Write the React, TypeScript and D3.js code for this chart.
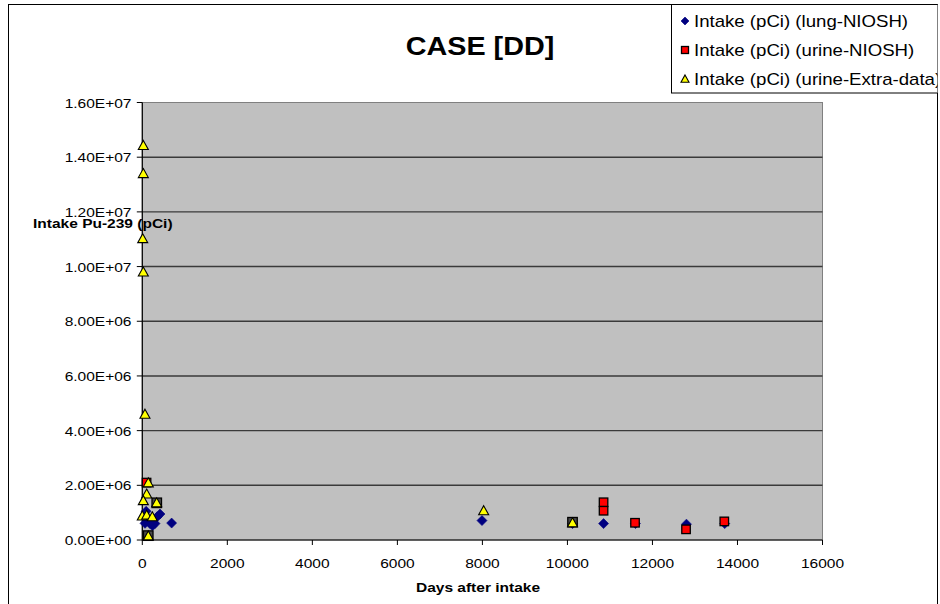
import React from "react";
import * as d3 from "d3";

// ---- data ----
const xTicks = [0, 2000, 4000, 6000, 8000, 10000, 12000, 14000, 16000];
const yTicks = [0, 2e6, 4e6, 6e6, 8e6, 1e7, 1.2e7, 1.4e7, 1.6e7];

const seriesNames = [
  "Intake (pCi) (lung-NIOSH)",
  "Intake (pCi) (urine-NIOSH)",
  "Intake (pCi) (urine-Extra-data)",
];

// [days after intake, intake pCi]
const lungNiosh: [number, number][] = [
  [63, 6.1e5], [90, 1.05e6], [140, 7.5e5], [181, 6.0e5], [240, 5.2e5],
  [299, 6.0e5], [350, 8.5e5], [416, 9.5e5], [690, 6.2e5],
  [7990, 7.1e5], [10120, 6.0e5], [10850, 6.0e5], [11600, 6.0e5],
  [12800, 5.8e5], [13700, 6.0e5],
];

const urineNiosh: [number, number][] = [
  [100, 2.1e6], [10850, 1.38e6], [10850, 1.07e6], [11590, 6.3e5],
  [12790, 3.9e5], [13690, 6.8e5],
];

// squares that appear dark behind triangles
const urineNioshShaded: [number, number][] = [
  [340, 1.36e6], [140, 1.6e5], [10120, 6.5e5],
];

const urineExtra: [number, number][] = [
  [24, 1.443e7], [24, 1.34e7], [10, 1.102e7], [24, 9.8e6], [63, 4.6e6],
  [141, 2.09e6], [103, 1.68e6], [24, 1.44e6], [338, 1.36e6], [0, 8.8e5],
  [103, 9.1e5], [235, 8.5e5], [141, 1.5e5], [8030, 1.07e6], [10120, 6.3e5],
];

// ---- layout ----
const W = 940, H = 604;
const PL = 142.3, PR = 822.5, PT = 102.5, PB = 540;
const SX = 1.15;
const FONT = "'Liberation Sans', Arial, sans-serif";

const x = d3.scaleLinear().domain([0, 16000]).range([PL, PR]);
const y = d3.scaleLinear().domain([0, 1.6e7]).range([PB, PT]);

function fmtE(v: number) {
  if (v === 0) return "0.00E+00";
  const e = Math.floor(Math.log10(v) + 1e-9);
  const m = v / Math.pow(10, e);
  return `${m.toFixed(2)}E+${String(e).padStart(2, "0")}`;
}

function T({ x, y, size, bold, anchor, children }: any) {
  return (
    <text
      transform={`translate(${x},${y}) scale(${SX},1)`}
      fontSize={size}
      fontWeight={bold ? "bold" : "normal"}
      textAnchor={anchor || "start"}
      fontFamily={FONT}
      fill="#000"
    >
      {children}
    </text>
  );
}

const diamondPath = (cx: number, cy: number, r: number) =>
  `M${cx},${cy - r}L${cx + r},${cy}L${cx},${cy + r}L${cx - r},${cy}Z`;
const trianglePath = (cx: number, cy: number, r: number) =>
  `M${cx},${cy - r}L${cx + r},${cy + r * 0.8}L${cx - r},${cy + r * 0.8}Z`;

function Diamond({ cx, cy, r = 5 }: any) {
  return <path d={diamondPath(cx, cy, r)} fill="#000080" stroke="#000080" strokeWidth={0.6} />;
}
function Square({ cx, cy, s = 8.5, fill = "#FF0000" }: any) {
  return <rect x={cx - s / 2} y={cy - s / 2} width={s} height={s} fill={fill} stroke="#000" strokeWidth={1.3} />;
}
function Triangle({ cx, cy, r = 5 }: any) {
  return <path d={trianglePath(cx, cy, r)} fill="#FFFF00" stroke="#000" strokeWidth={1.1} />;
}

export default function App() {
  return (
    <svg
      width={W}
      height={H}
      style={{ position: "absolute", left: 0, top: 0, background: "#fff" }}
    >
      <defs>
        <clipPath id="chartClip">
          <rect x={0} y={0} width={937.5} height={H} />
        </clipPath>
      </defs>
      {/* chart border */}
      <rect x={8.5} y={4.5} width={929} height={640} fill="#fff" stroke="#000" strokeWidth={1} />

      {/* plot area */}
      <rect x={PL} y={PT} width={PR - PL} height={PB - PT} fill="#C0C0C0" stroke="#808080" strokeWidth={1} />
      {yTicks.filter((t) => t > 0 && t < 1.6e7).map((t) => (
        <line key={t} x1={PL} x2={PR} y1={y(t)} y2={y(t)} stroke="#3a3a3a" strokeWidth={1.4} />
      ))}

      {/* axes */}
      <line x1={PL} x2={PL} y1={PT} y2={PB + 0.5} stroke="#000" strokeWidth={1.2} />
      <line x1={PL} x2={PR} y1={PB} y2={PB} stroke="#000" strokeWidth={1.2} />
      {yTicks.map((t) => (
        <g key={t}>
          <line x1={PL - 5.5} x2={PL} y1={y(t)} y2={y(t)} stroke="#000" strokeWidth={1} />
          <T x={131.5} y={y(t) + 5} size={13.5} anchor="end">{fmtE(t)}</T>
        </g>
      ))}
      {xTicks.map((t) => (
        <g key={t}>
          <line x1={x(t)} x2={x(t)} y1={PB} y2={PB + 5} stroke="#000" strokeWidth={1} />
          <T x={x(t)} y={568} size={13.5} anchor="middle">{String(t)}</T>
        </g>
      ))}

      {/* series, drawn in Excel order */}
      {lungNiosh.map(([d, v], i) => (
        <Diamond key={"l" + i} cx={x(d)} cy={y(v)} />
      ))}
      {urineNioshShaded.map(([d, v], i) => (
        <Square key={"s" + i} cx={x(d)} cy={y(v)} s={9.5} fill="#4a4a4a" />
      ))}
      {urineNiosh.map(([d, v], i) => (
        <Square key={"u" + i} cx={x(d)} cy={y(v)} />
      ))}
      {urineExtra.map(([d, v], i) => (
        <Triangle key={"e" + i} cx={x(d)} cy={y(v)} />
      ))}

      {/* titles */}
      <T x={480} y={55} size={25} bold anchor="middle">CASE [DD]</T>
      <T x={33} y={228} size={13.5} bold>Intake Pu-239 (pCi)</T>
      <T x={478} y={592} size={13.5} bold anchor="middle">Days after intake</T>

      {/* legend */}
      <g clipPath="url(#chartClip)">
        <rect x={671.5} y={4.5} width={280} height={88.5} fill="#fff" stroke="#000" strokeWidth={1} />
        {seriesNames.map((name, i) => {
          const cy = 21 + i * 29;
          return (
            <g key={name}>
              {i === 0 && <Diamond cx={685} cy={cy} r={4} />}
              {i === 1 && <Square cx={685} cy={cy} s={7} />}
              {i === 2 && <Triangle cx={685} cy={cy} r={4} />}
              <T x={694} y={cy + 5.5} size={16.2}>{name}</T>
            </g>
          );
        })}
      </g>
    </svg>
  );
}
